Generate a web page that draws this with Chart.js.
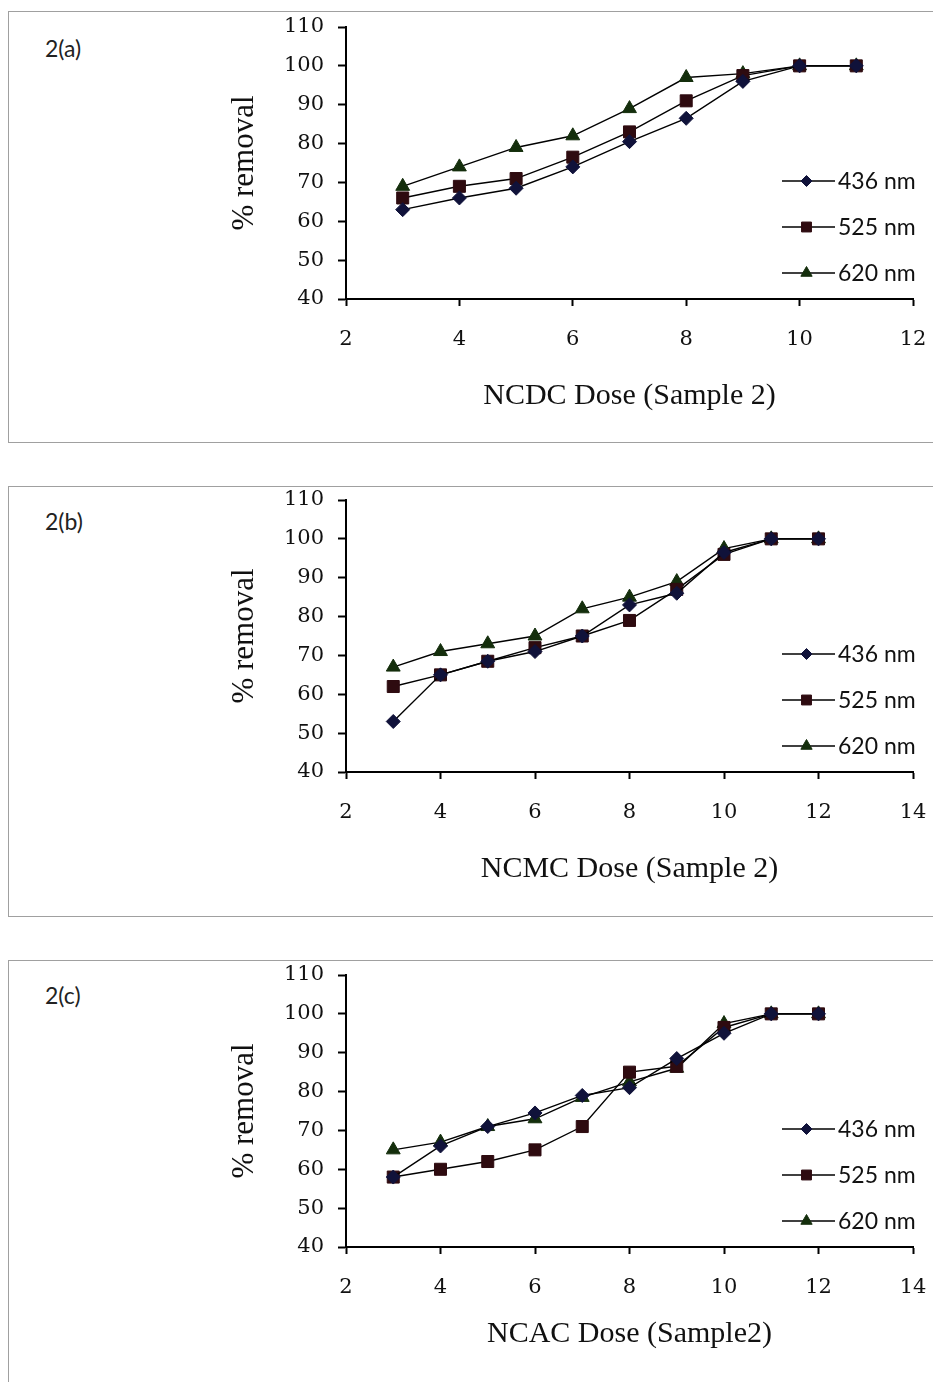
<!DOCTYPE html>
<html>
<head>
<meta charset="utf-8">
<script src="https://cdn.jsdelivr.net/npm/chart.js@4.4.1/dist/chart.umd.min.js"></script>
<style>
  body { margin: 0; background: #fff; width: 933px; height: 1382px; overflow: hidden; position: relative; }
  .box { position: absolute; left: 8px; width: 940px; border: 1.5px solid #a0a0a0; box-sizing: border-box; }
  .tag { position: absolute; left: 45px; font-family: "Lato", "Open Sans", sans-serif; font-size: 23px; color: #222; }
  canvas.plot { position: absolute; left: 0; }
</style>
</head>
<body>
<div class="box" style="top:11px;height:432px;"></div>
<div class="box" style="top:486px;height:431px;"></div>
<div class="box" style="top:960px;height:440px;"></div>
<div class="tag" style="top:34px;">2(a)</div>
<div class="tag" style="top:507px;">2(b)</div>
<div class="tag" style="top:981px;">2(c)</div>
<canvas class="plot" id="c1" style="top:12px;" width="933" height="431"></canvas>
<canvas class="plot" id="c2" style="top:485px;" width="933" height="431"></canvas>
<canvas class="plot" id="c3" style="top:960px;" width="933" height="421"></canvas>
<script>
// dose values (x)
var doseA = [3, 4, 5, 6, 7, 8, 9, 10, 11];
var doseB = [3, 4, 5, 6, 7, 8, 9, 10, 11, 12];
var doseC = [3, 4, 5, 6, 7, 8, 9, 10, 11, 12];

// % removal, 2(a) NCDC
var a436 = [63, 66, 68.5, 74, 80.5, 86.5, 96, 100, 100];
var a525 = [66, 69, 71, 76.5, 83, 91, 97.5, 100, 100];
var a620 = [69, 74, 79, 82, 89, 97, 98, 100, 100];

// % removal, 2(b) NCMC
var b436 = [53, 65, 68.5, 71, 75, 83, 86, 96.5, 100, 100];
var b525 = [62, 65, 68.5, 72, 75, 79, 87, 96, 100, 100];
var b620 = [67, 71, 73, 75, 82, 85, 89, 97.5, 100, 100];

// % removal, 2(c) NCAC
var c436 = [58, 66, 71, 74.5, 79, 81, 88.5, 95, 100, 100];
var c525 = [58, 60, 62, 65, 71, 85, 86.5, 96.5, 100, 100];
var c620 = [65, 67, 71, 73, 78.5, 82.5, 86, 97.5, 100, 100];

var seriesNames = ["436 nm", "525 nm", "620 nm"];
var markerStyles = ["rectRot", "rect", "triangle"];
var markerColors = ["#10123a", "#2e0b10", "#142e0c"];
var markerSizes = [7, 8.5, 8];

var yTicks = [40, 50, 60, 70, 80, 90, 100, 110];

function pts(xs, ys) {
	return xs.map(function(x, i) { return {x: x, y: ys[i]}; });
}

// legend drawn inside the plot, like the original Excel chart
var insideLegend = {
	id: 'insideLegend',
	afterDraw: function(chart) {
		var ctx = chart.ctx, area = chart.chartArea;
		var rows = [118, 72, 26];
		ctx.save();
		chart.data.datasets.forEach(function(ds, i) {
			var y = area.bottom - rows[i];
			var x0 = area.right - 131, x1 = area.right - 78;
			ctx.strokeStyle = '#000';
			ctx.lineWidth = 1.4;
			ctx.beginPath();
			ctx.moveTo(x0, y);
			ctx.lineTo(x1, y);
			ctx.stroke();
			ctx.fillStyle = ds.pointBackgroundColor;
			ctx.strokeStyle = ds.pointBorderColor;
			ctx.lineWidth = 1;
			Chart.helpers.drawPoint(ctx, {pointStyle: ds.pointStyle, radius: ds.pointRadius - 1.5, rotation: 0, borderWidth: 1}, (x0 + x1) / 2 - 2, y);
			ctx.fillStyle = '#111';
			ctx.font = '23px Lato, "Open Sans", sans-serif';
			ctx.textBaseline = 'middle';
			ctx.textAlign = 'left';
			ctx.fillText(ds.label, x1 + 3, y + 1);
		});
		ctx.restore();
	}
};

function makeChart(id, xs, ys, xMax, xTitle, plotH) {
	var datasets = ys.map(function(vals, i) {
		return {
			label: seriesNames[i],
			data: pts(xs, vals),
			borderColor: '#000',
			borderWidth: 1.4,
			pointStyle: markerStyles[i],
			pointRadius: markerSizes[i],
			pointBackgroundColor: markerColors[i],
			pointBorderColor: markerColors[i],
			pointBorderWidth: 1,
			tension: 0
		};
	});
	var canvas = document.getElementById(id);
	return new Chart(canvas.getContext('2d'), {
		type: 'line',
		data: {datasets: datasets},
		options: {
			responsive: false,
			animation: false,
			layout: {padding: {left: 0, top: 15, right: 20, bottom: 0}},
			plugins: {legend: {display: false}, tooltip: {enabled: false}},
			scales: {
				x: {
					type: 'linear',
					min: 2, max: xMax,
					afterFit: function(s) { s.height = canvas.height - 15 - plotH; s.paddingLeft = 0; s.paddingRight = 0; },
					ticks: {stepSize: 2, color: '#111', padding: 21, maxRotation: 0,
						font: {family: '"DejaVu Serif", "Liberation Serif", serif', size: 21}},
					grid: {drawOnChartArea: false, color: '#000', tickColor: '#000', tickLength: 7, tickWidth: 2},
					border: {color: '#000', width: 2},
					title: {display: true, text: xTitle, color: '#111', padding: {top: 0, bottom: 29},
						font: {family: '"Liberation Serif", "DejaVu Serif", serif', size: 30}}
				},
				y: {
					min: 40, max: 110,
					afterFit: function(s) { s.width = 346; s.paddingTop = 0; s.paddingBottom = 0; },
					afterBuildTicks: function(s) { s.ticks = yTicks.map(function(v) { return {value: v}; }); },
					ticks: {color: '#111', padding: 14,
						font: {family: '"DejaVu Serif", "Liberation Serif", serif', size: 21}},
					grid: {drawOnChartArea: false, color: '#000', tickColor: '#000', tickLength: 8, tickWidth: 2},
					border: {color: '#000', width: 2},
					title: {display: true, text: '% removal', color: '#111', padding: {top: 226, bottom: 0},
						font: {family: '"Liberation Serif", "DejaVu Serif", serif', size: 31}}
				}
			}
		},
		plugins: [insideLegend]
	});
}

makeChart('c1', doseA, [a436, a525, a620], 12, 'NCDC Dose (Sample 2)', 272);
makeChart('c2', doseB, [b436, b525, b620], 14, 'NCMC Dose (Sample 2)', 272);
makeChart('c3', doseC, [c436, c525, c620], 14, 'NCAC Dose (Sample2)', 272);
</script>
</body>
</html>
